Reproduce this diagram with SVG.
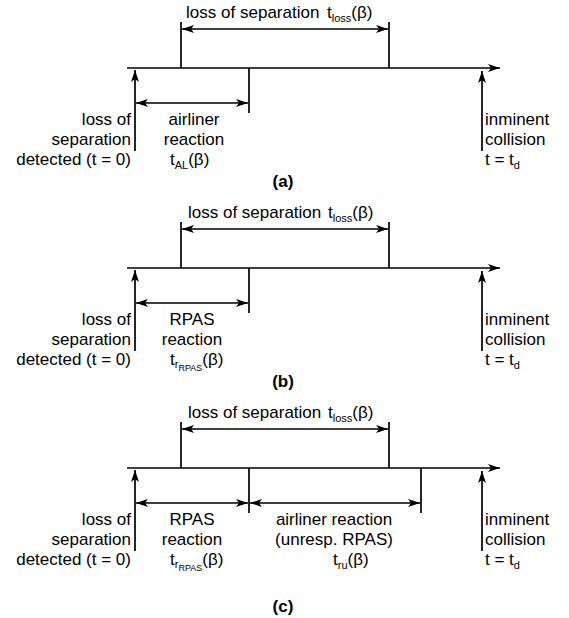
<svg xmlns="http://www.w3.org/2000/svg" width="569" height="618" viewBox="0 0 569 618">
<style>
.ln{stroke:#000;stroke-width:1.7;fill:none}
.ar{marker-end:url(#ah)}
.da{marker-start:url(#ah);marker-end:url(#ah)}
.t{font-family:"Liberation Sans",Arial,sans-serif;font-size:17px;fill:#000}
.e{text-anchor:end}
.m{text-anchor:middle}
.b{font-weight:bold}
.s{font-size:11px}
.ss{font-size:9px}
</style>
<defs>
<marker id="ah" viewBox="0 0 12 8" refX="12" refY="4" markerWidth="12" markerHeight="8" markerUnits="userSpaceOnUse" orient="auto-start-reverse">
<path d="M0,0 L12,4 L0,8 L3,4 Z" fill="#000"/>
</marker>
</defs>
<rect width="569" height="618" fill="#fff"/>

<!-- Panel (a) -->
<g id="panel-a">
<g id="connectors-a">
<line class="ln ar" x1="127" y1="68" x2="500" y2="68"/>
<line class="ln" x1="181" y1="22" x2="181" y2="68"/>
<line class="ln" x1="389" y1="22" x2="389" y2="68"/>
<line class="ln da" x1="182" y1="29" x2="388" y2="29"/>
<line class="ln" x1="249" y1="68" x2="249" y2="113"/>
<line class="ln da" x1="136" y1="103" x2="248" y2="103"/>
<line class="ln ar" x1="135" y1="151" x2="135" y2="70"/>
<line class="ln ar" x1="482" y1="151" x2="482" y2="71"/>
</g>
<g id="label-loss-a"><text class="t" x="186" y="18">loss of<tspan x="240">separation</tspan><tspan x="327">t</tspan><tspan class="s" dy="4">loss</tspan><tspan dy="-4">(β)</tspan></text></g>
<g id="label-detected-a">
<text class="t e" x="131" y="125">loss of</text>
<text class="t e" x="131" y="145">separation</text>
<text class="t e" x="131" y="165">detected (t = 0)</text>
</g>
<g id="label-reaction-a">
<text class="t m" x="194" y="125">airliner</text>
<text class="t m" x="194" y="145">reaction</text>
<text class="t" x="170" y="165">t<tspan class="s" dy="4">AL</tspan><tspan dy="-4">(β)</tspan></text>
</g>
<g id="label-collision-a">
<text class="t" x="485" y="125">inminent</text>
<text class="t" x="485" y="145">collision</text>
<text class="t" x="485" y="165">t = t<tspan class="s" dy="4">d</tspan></text>
</g>
<text class="t m b" x="283" y="187">(a)</text>
</g>

<!-- Panel (b) -->
<g id="panel-b">
<g id="connectors-b">
<line class="ln ar" x1="127" y1="268" x2="500" y2="268"/>
<line class="ln" x1="181" y1="222" x2="181" y2="268"/>
<line class="ln" x1="389" y1="222" x2="389" y2="268"/>
<line class="ln da" x1="182" y1="229" x2="388" y2="229"/>
<line class="ln" x1="249" y1="268" x2="249" y2="313"/>
<line class="ln da" x1="136" y1="303" x2="248" y2="303"/>
<line class="ln ar" x1="135" y1="351" x2="135" y2="270"/>
<line class="ln ar" x1="482" y1="351" x2="482" y2="271"/>
</g>
<g id="label-loss-b"><text class="t" x="188" y="218">loss of separation<tspan x="328">t</tspan><tspan class="s" dy="4">loss</tspan><tspan dy="-4">(β)</tspan></text></g>
<g id="label-detected-b">
<text class="t e" x="131" y="325">loss of</text>
<text class="t e" x="131" y="345">separation</text>
<text class="t e" x="131" y="365">detected (t = 0)</text>
</g>
<g id="label-reaction-b">
<text class="t m" x="192" y="325">RPAS</text>
<text class="t m" x="192" y="345">reaction</text>
<text class="t" x="170" y="365">t<tspan class="s" dy="3">r</tspan><tspan class="ss" dy="3">RPAS</tspan><tspan dy="-6">(β)</tspan></text>
</g>
<g id="label-collision-b">
<text class="t" x="485" y="325">inminent</text>
<text class="t" x="485" y="345">collision</text>
<text class="t" x="485" y="365">t = t<tspan class="s" dy="4">d</tspan></text>
</g>
<text class="t m b" x="283" y="387">(b)</text>
</g>

<!-- Panel (c) -->
<g id="panel-c">
<g id="connectors-c">
<line class="ln ar" x1="127" y1="468" x2="500" y2="468"/>
<line class="ln" x1="181" y1="422" x2="181" y2="468"/>
<line class="ln" x1="389" y1="422" x2="389" y2="468"/>
<line class="ln da" x1="182" y1="429" x2="388" y2="429"/>
<line class="ln" x1="249" y1="468" x2="249" y2="513"/>
<line class="ln da" x1="136" y1="503" x2="248" y2="503"/>
<line class="ln" x1="421" y1="468" x2="421" y2="513"/>
<line class="ln da" x1="250" y1="503" x2="420" y2="503"/>
<line class="ln ar" x1="135" y1="551" x2="135" y2="470"/>
<line class="ln ar" x1="482" y1="551" x2="482" y2="471"/>
</g>
<g id="label-loss-c"><text class="t" x="188" y="418">loss of separation<tspan x="328">t</tspan><tspan class="s" dy="4">loss</tspan><tspan dy="-4">(β)</tspan></text></g>
<g id="label-detected-c">
<text class="t e" x="131" y="525">loss of</text>
<text class="t e" x="131" y="545">separation</text>
<text class="t e" x="131" y="565">detected (t = 0)</text>
</g>
<g id="label-reaction-c">
<text class="t m" x="192" y="525">RPAS</text>
<text class="t m" x="192" y="545">reaction</text>
<text class="t" x="170" y="565">t<tspan class="s" dy="3">r</tspan><tspan class="ss" dy="3">RPAS</tspan><tspan dy="-6">(β)</tspan></text>
</g>
<g id="label-unresp-c">
<text class="t m" x="334" y="525">airliner reaction</text>
<text class="t m" x="334" y="545">(unresp. RPAS)</text>
<text class="t" x="333" y="565">t<tspan class="s" dy="4">ru</tspan><tspan dy="-4">(β)</tspan></text>
</g>
<g id="label-collision-c">
<text class="t" x="485" y="525">inminent</text>
<text class="t" x="485" y="545">collision</text>
<text class="t" x="485" y="565">t = t<tspan class="s" dy="4">d</tspan></text>
</g>
<text class="t m b" x="283" y="612">(c)</text>
</g>
</svg>
